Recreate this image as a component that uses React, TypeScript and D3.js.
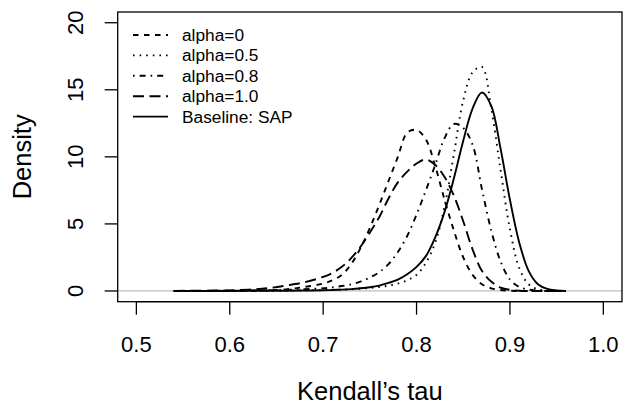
import React from 'react';
import * as d3 from 'd3';

// grid of Kendall's tau values at which the densities are read
const tau = [0.54, 0.58, 0.62, 0.64, 0.66, 0.68, 0.70, 0.71, 0.72, 0.73, 0.74, 0.75, 0.76, 0.77, 0.78, 0.79,
  0.80, 0.81, 0.82, 0.83, 0.84, 0.85, 0.86, 0.87, 0.88, 0.89, 0.90, 0.91, 0.92, 0.93, 0.94, 0.95, 0.96];

const alpha0 = [0, 0, 0.02, 0.05, 0.12, 0.3, 0.55, 0.8, 1.2, 2.0, 3.2, 4.7, 6.4, 8.2, 10.0, 11.8,
  12.0, 11.3, 9.3, 6.8, 4.5, 2.5, 1.2, 0.5, 0.2, 0.07, 0.02, 0, 0, 0, 0, 0, 0];
const alpha05 = [0, 0, 0.005, 0.01, 0.02, 0.04, 0.06, 0.08, 0.1, 0.13, 0.17, 0.22, 0.3, 0.4, 0.55, 0.8,
  1.2, 2.1, 3.6, 6.3, 10.2, 14.2, 16.3, 16.7, 13.6, 9.0, 4.6, 1.7, 0.5, 0.12, 0.03, 0, 0];
const alpha08 = [0, 0.01, 0.03, 0.05, 0.08, 0.13, 0.2, 0.27, 0.37, 0.5, 0.7, 1.0, 1.4, 2.0, 2.9, 4.1,
  5.7, 7.5, 9.4, 11.4, 12.45, 12.15, 10.9, 7.6, 4.5, 2.2, 0.85, 0.3, 0.1, 0.03, 0, 0, 0];
const alpha10 = [0.01, 0.03, 0.1, 0.2, 0.4, 0.65, 1.05, 1.35, 1.8, 2.45, 3.3, 4.35, 5.5, 6.9, 8.1, 8.9,
  9.5, 9.8, 9.4, 8.5, 7.1, 5.2, 3.1, 1.5, 0.7, 0.25, 0.08, 0.02, 0, 0, 0, 0, 0];
const baseline = [0, 0, 0.01, 0.015, 0.02, 0.03, 0.05, 0.07, 0.1, 0.14, 0.2, 0.28, 0.4, 0.6, 0.85, 1.25,
  1.8, 2.6, 4.0, 5.9, 8.4, 11.2, 13.6, 14.8, 13.8, 10.6, 6.8, 3.6, 1.5, 0.5, 0.15, 0.04, 0];

const seriesNames = ['alpha=0', 'alpha=0.5', 'alpha=0.8', 'alpha=1.0', 'Baseline: SAP'];
const seriesValues = [alpha0, alpha05, alpha08, alpha10, baseline];
const dashes = ['5.5,5.5', '1.6,5', '1.6,5,6,5', '11,5.5', 'none'];

const xTicks = [0.5, 0.6, 0.7, 0.8, 0.9, 1.0];
const yTicks = [0, 5, 10, 15, 20];

const W = 631;
const H = 407;
const left = 117.7, right = 622, top = 12, bottom = 301.7;
const font = '"Liberation Sans", Arial, Helvetica, sans-serif';

export default function App() {
  const x = d3.scaleLinear().domain([0.48, 1.02]).range([left, right]);
  const y = d3.scaleLinear().domain([-0.8, 20.8]).range([bottom, top]);

  const line = d3.line<number>()
    .x((_, i) => x(tau[i]))
    .y(d => y(d))
    .curve(d3.curveCatmullRom.alpha(0.5));

  return (
    <svg width={W} height={H} style={{ position: 'absolute', left: 0, top: 0, background: '#fff' }}
      fontFamily={font}>
      <defs>
        <clipPath id="plot">
          <rect x={left} y={top} width={right - left} height={bottom - top} />
        </clipPath>
      </defs>
      <line x1={left} x2={right} y1={y(0)} y2={y(0)} stroke="#bebebe" strokeWidth={1.3} />
      <g clipPath="url(#plot)">
        {seriesValues.map((vals, i) => (
          <path key={seriesNames[i]} d={line(vals) || ''} fill="none" stroke="#000"
            strokeWidth={1.9} strokeDasharray={dashes[i]} />
        ))}
      </g>
      <rect x={left} y={top} width={right - left} height={bottom - top} fill="none" stroke="#000" strokeWidth={1.3} />

      {/* x axis */}
      <line x1={x(0.5)} x2={x(1.0)} y1={bottom} y2={bottom} stroke="#000" strokeWidth={1.3} />
      {xTicks.map(t => (
        <g key={t}>
          <line x1={x(t)} x2={x(t)} y1={bottom} y2={bottom + 13} stroke="#000" strokeWidth={1.3} />
          <text x={x(t)} y={352} textAnchor="middle" fontSize={22}>{t.toFixed(1)}</text>
        </g>
      ))}
      <text x={(left + right) / 2} y={400} textAnchor="middle" fontSize={25.5}>Kendall’s tau</text>

      {/* y axis */}
      {yTicks.map(t => (
        <g key={t}>
          <line x1={left} x2={left - 13} y1={y(t)} y2={y(t)} stroke="#000" strokeWidth={1.3} />
          <text transform={`translate(83,${y(t)}) rotate(-90)`} textAnchor="middle" fontSize={22}>{t}</text>
        </g>
      ))}
      <text transform={`translate(31,${(top + bottom) / 2}) rotate(-90)`} textAnchor="middle" fontSize={25.5}>Density</text>

      {/* legend */}
      {seriesNames.map((name, i) => {
        const ly = 35 + i * 20.4;
        return (
          <g key={name}>
            <line x1={133} x2={168} y1={ly} y2={ly} stroke="#000" strokeWidth={1.9} strokeDasharray={dashes[i]} />
            <text x={182} y={ly + 6} fontSize={17.3}>{name}</text>
          </g>
        );
      })}
    </svg>
  );
}
